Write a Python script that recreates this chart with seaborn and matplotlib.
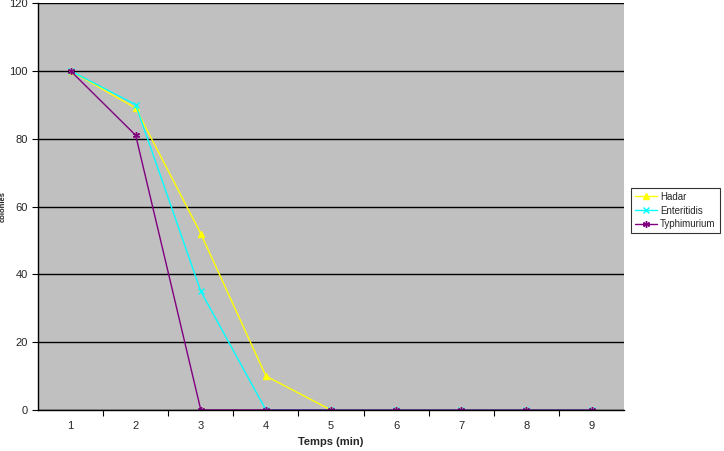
import pandas as pd
import matplotlib
matplotlib.use("Agg")
import matplotlib.pyplot as plt
import seaborn as sns

# data
temps = [1, 2, 3, 4, 5, 6, 7, 8, 9]
hadar = [100, 89, 52, 10, 0, 0, 0, 0, 0]
enteritidis = [100, 90, 35, 0, 0, 0, 0, 0, 0]
typhimurium = [100, 81, 0, 0, 0, 0, 0, 0, 0]
series = ["Hadar", "Enteritidis", "Typhimurium"]

df = pd.DataFrame({
    "Temps": temps * 3,
    "colonies": hadar + enteritidis + typhimurium,
    "souche": sum([[s] * len(temps) for s in series], []),
})

sns.set_style("white")
plt.rcParams["font.family"] = ["Liberation Sans", "DejaVu Sans"]

fig = plt.figure(figsize=(7.24, 4.51), dpi=100)
ax = fig.add_axes([0.0525, 0.0909, 0.8095, 0.9024])
ax.set_facecolor("#C0C0C0")

palette = {"Hadar": "#FFFF00", "Enteritidis": "#00FFFF", "Typhimurium": "#800080"}
markers = {"Hadar": "^", "Enteritidis": "x", "Typhimurium": (6, 2, 0)}

# one call per series, since filled and line markers can't be mixed in one
for s in series:
    sub = df[df["souche"] == s]
    sns.lineplot(data=sub, x="Temps", y="colonies", color=palette[s],
                 marker=markers[s], linewidth=1, markersize=5,
                 markeredgewidth=1, markeredgecolor=palette[s], label=s, ax=ax)

ax.set_xlim(0.5, 9.5)
ax.set_ylim(0, 120)
ax.set_xticks(temps)
ax.set_xticks([t + 0.5 for t in temps[:-1]], minor=True)
ax.set_yticks(range(0, 121, 20))
ax.yaxis.grid(True, color="black", linewidth=1)
ax.set_axisbelow(True)
ax.tick_params(axis="x", which="major", length=0, labelsize=8, pad=8)
ax.tick_params(axis="x", which="minor", length=4, width=0.8, direction="out", color="black")
ax.tick_params(axis="y", which="major", length=4, width=0.8, direction="out", labelsize=8, color="black")
ax.tick_params(bottom=True, left=True, which="both")

for side in ["top", "right"]:
    ax.spines[side].set_visible(False)
for side in ["left", "bottom"]:
    ax.spines[side].set_color("black")
    ax.spines[side].set_linewidth(1)

ax.set_xlabel("Temps (min)", fontsize=8, fontweight="bold", labelpad=4)
ax.set_ylabel("colonies", fontsize=5.5, fontweight="bold")
ax.yaxis.set_label_coords(-0.053, 0.5)

handles, labels = ax.get_legend_handles_labels()
leg = ax.legend(handles, labels, loc="center left", bbox_to_anchor=(1.012, 0.49),
                frameon=True, fancybox=False, fontsize=7, handlelength=2.3,
                borderpad=0.4, labelspacing=0.4, handletextpad=0.3, borderaxespad=0)
leg.get_frame().set_edgecolor("black")
leg.get_frame().set_linewidth(0.8)

fig.savefig("out.png", dpi=100)
